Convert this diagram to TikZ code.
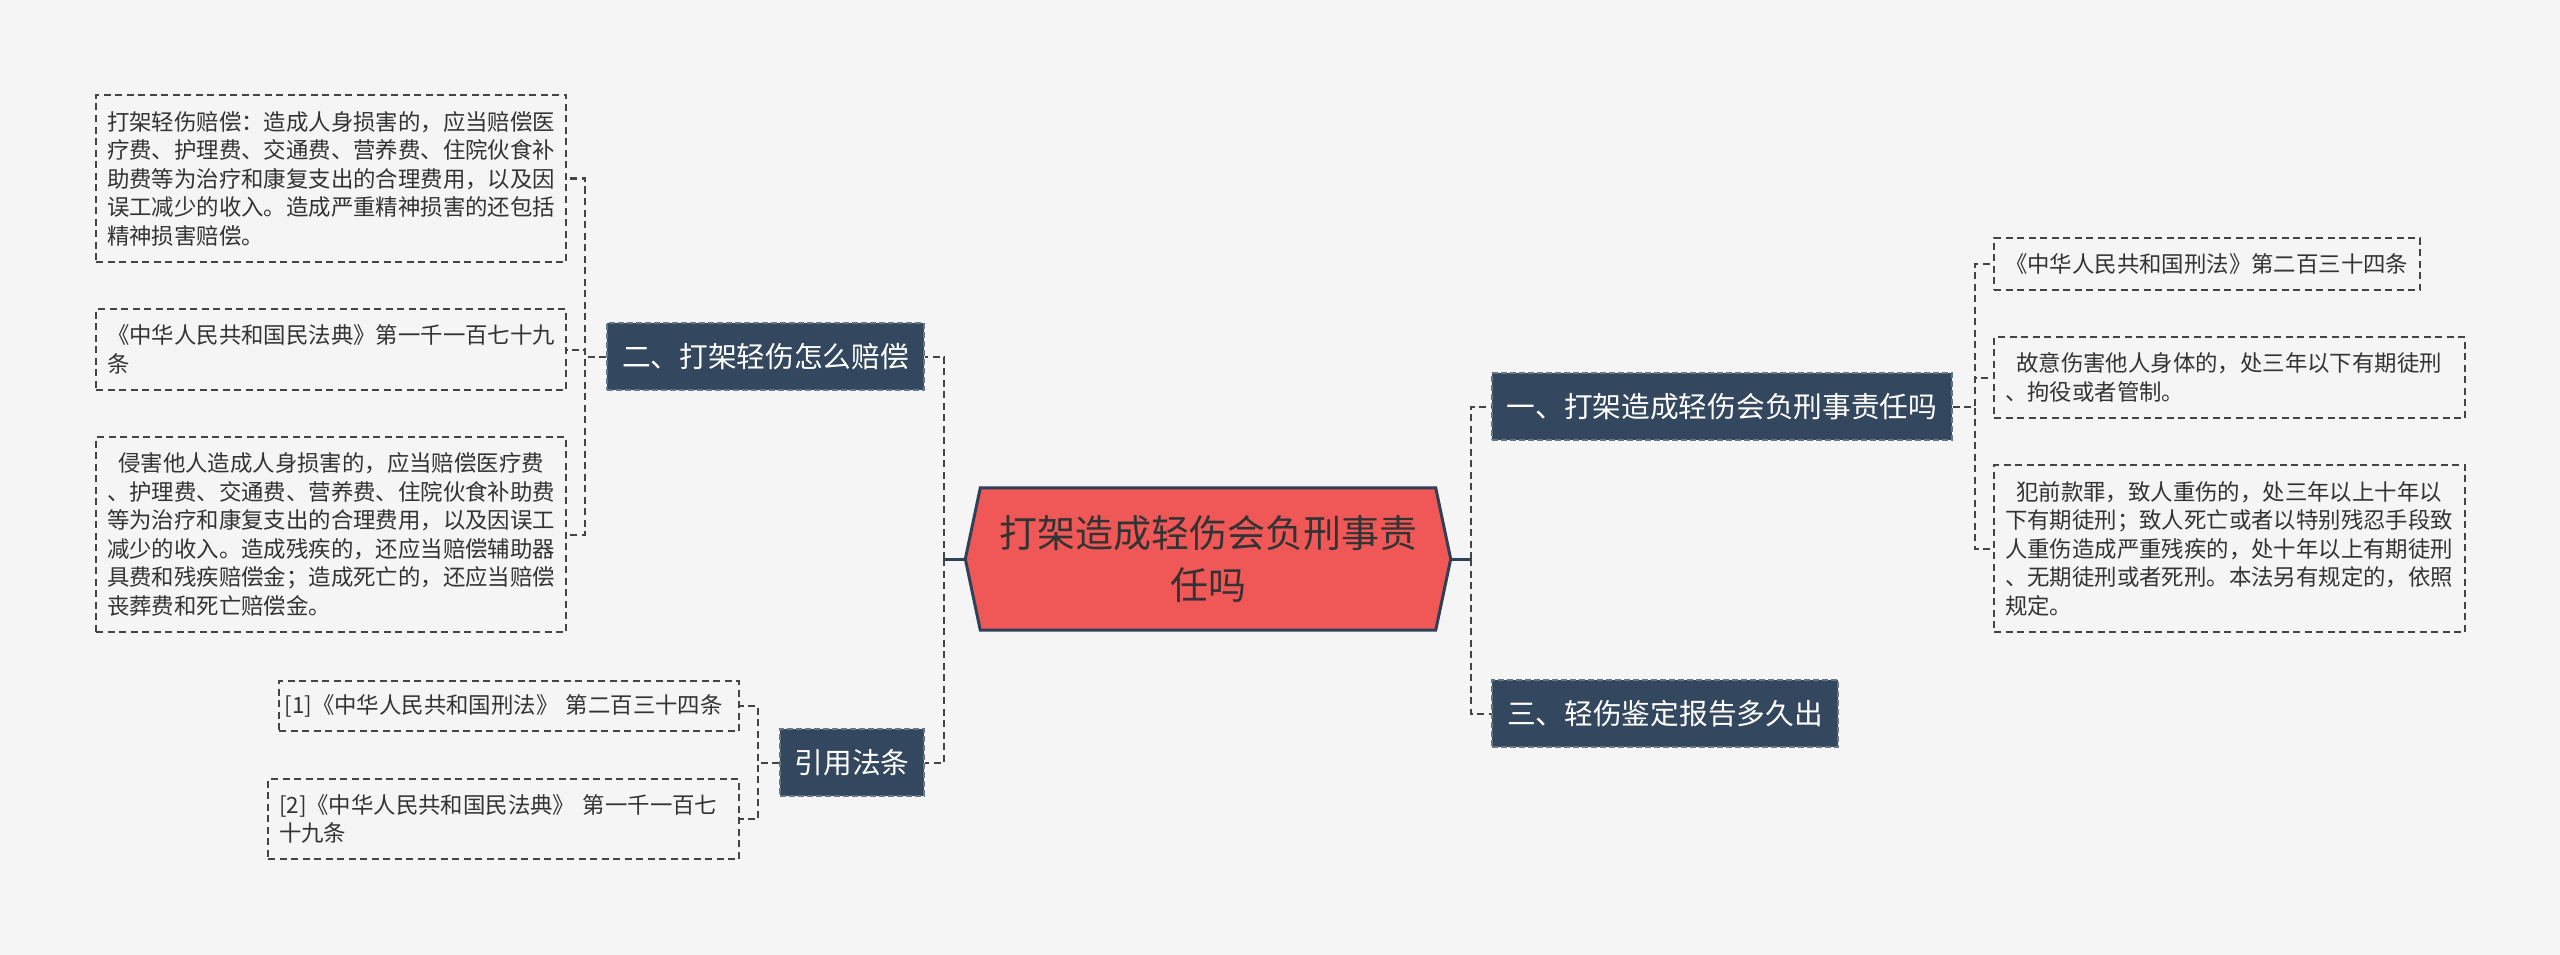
\documentclass[tikz,border=0pt]{standalone}
\usepackage{fontspec}
\setmainfont{Noto Sans CJK SC}
\usetikzlibrary{positioning}
\definecolor{page_bg}{HTML}{F5F5F5}
\definecolor{slate}{HTML}{33485E}
\definecolor{slate_line}{HTML}{2E4156}
\definecolor{coral}{HTML}{F05858}
\definecolor{ink}{HTML}{333333}
\definecolor{dash_ink}{HTML}{444444}
\tikzset{
root_box/.style={
	% The shape: only a frame for the text,
	% the hexagon itself is drawn round it
	rectangle,
	inner sep=0pt,
	minimum width=455pt,
	minimum height=142pt,
	align=center,
	text=ink,
	font=\fontsize{38}{52}\selectfont
},
branch_box/.style={
	% The shape:
	rectangle,
	inner sep=0pt,
	minimum height=67pt,
	% The filling, and a dashed border a bit lighter
	fill=slate,
	draw=slate!75!white,
	line width=1.5pt,
	dash pattern=on 6pt off 3pt,
	% Font
	text=white,
	font=\fontsize{28.7}{34}\selectfont
},
leaf_box/.style={
	rectangle,
	inner xsep=11pt,
	inner ysep=0pt,
	% The border:
	draw=dash_ink,
	line width=1.6pt,
	dash pattern=on 7pt off 4.5pt,
	align=left,
	text=ink,
	font=\fontsize{22.4}{28.5}\selectfont
},
link/.style={draw=dash_ink, line width=2pt, dash pattern=on 7pt off 4.5pt},
stub/.style={draw=slate_line, line width=3pt}
}

\begin{document}
\begin{tikzpicture}[x=1pt, y=-1pt]
	\fill[page_bg] (0,0) rectangle (2560,955);
	\useasboundingbox (0,0) rectangle (2560,955);

	% the root
	\node[root_box] (root) at (1208,559) {打架造成轻伤会负刑事责\\任吗};
	\coordinate (tip_w) at ([xshift=-15pt]root.west);
	\coordinate (tip_e) at ([xshift=15pt]root.east);
	\draw[fill=coral, draw=slate_line, line width=3pt, line join=miter]
		(tip_w) -- (root.north west) -- (root.north east) -- (tip_e)
		-- (root.south east) -- (root.south west) -- cycle;
	\node[root_box] at (root) {打架造成轻伤会负刑事责\\任吗};

	% branches
	\node[branch_box, minimum width=317pt] (pay) at (765.5,356.5) {二、打架轻伤怎么赔偿};
	\node[branch_box, minimum width=144pt] (laws) at (852,762.5) {引用法条};
	\node[branch_box, minimum width=460pt] (crime) at (1722,406.5) {一、打架造成轻伤会负刑事责任吗};
	\node[branch_box, minimum width=346pt] (report) at (1665,713.5) {三、轻伤鉴定报告多久出};

	% leaves on the left
	\node[leaf_box, text width=448pt, minimum height=167pt] (pay_a) at (331,178.5)
		{打架轻伤赔偿：造成人身损害的，应当赔偿医\\疗费、护理费、交通费、营养费、住院伙食补\\助费等为治疗和康复支出的合理费用，以及因\\误工减少的收入。造成严重精神损害的还包括\\精神损害赔偿。};
	\node[leaf_box, text width=448pt, minimum height=81pt] (pay_b) at (331,349.5)
		{《中华人民共和国民法典》第一千一百七十九\\条};
	\node[leaf_box, text width=448pt, minimum height=195pt] (pay_c) at (331,534.5)
		{\hspace*{0.5em}侵害他人造成人身损害的，应当赔偿医疗费\\、护理费、交通费、营养费、住院伙食补助费\\等为治疗和康复支出的合理费用，以及因误工\\减少的收入。造成残疾的，还应当赔偿辅助器\\具费和残疾赔偿金；造成死亡的，还应当赔偿\\丧葬费和死亡赔偿金。};
	\node[leaf_box, inner xsep=5.5pt, text width=449pt, minimum height=50pt] (law_a) at (509,706)
		{\mbox{[1]《中华人民共和国刑法》 第二百三十四条}};
	\node[leaf_box, text width=449pt, minimum height=80pt] (law_b) at (503.5,819)
		{[2]《中华人民共和国民法典》 第一千一百七\\十九条};

	% leaves on the right
	\node[leaf_box, text width=404pt, minimum height=52pt] (crime_a) at (2207,264)
		{《中华人民共和国刑法》第二百三十四条};
	\node[leaf_box, text width=449pt, minimum height=81pt] (crime_b) at (2229.5,377.5)
		{\hspace*{0.5em}故意伤害他人身体的，处三年以下有期徒刑\\、拘役或者管制。};
	\node[leaf_box, text width=449pt, minimum height=167pt] (crime_c) at (2229.5,548.5)
		{\hspace*{0.5em}犯前款罪，致人重伤的，处三年以上十年以\\下有期徒刑；致人死亡或者以特别残忍手段致\\人重伤造成严重残疾的，处十年以上有期徒刑\\、无期徒刑或者死刑。本法另有规定的，依照\\规定。};

	% connectors from the root
	\draw[stub] (tip_w) -- ++(-21,0) coordinate (join_l);
	\draw[stub] (tip_e) -- ++(20,0) coordinate (join_r);
	\draw[link] (join_l) |- (pay.east);
	\draw[link] (join_l) |- (laws.east);
	\draw[link] (join_r) |- (crime.west);
	\draw[link] (join_r) |- (report.west);

	% connectors to the leaves
	\draw[link] (pay.west) -- ++(-21,0) |- (pay_a.east);
	\draw[link] (pay.west) -- ++(-21,0) |- (pay_b.east);
	\draw[link] (pay.west) -- ++(-21,0) |- (pay_c.east);
	\draw[link] (laws.west) -- ++(-21,0) |- (law_a.east);
	\draw[link] (laws.west) -- ++(-21,0) |- (law_b.east);
	\draw[link] (crime.east) -- ++(22,0) |- (crime_a.west);
	\draw[link] (crime.east) -- ++(22,0) |- (crime_b.west);
	\draw[link] (crime.east) -- ++(22,0) |- (crime_c.west);
\end{tikzpicture}
\end{document}
